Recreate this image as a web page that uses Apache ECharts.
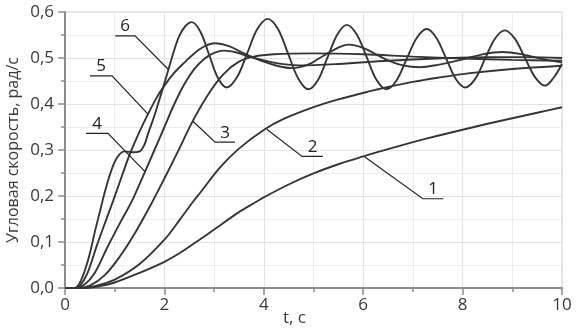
<!DOCTYPE html>
<html>
<head>
<meta charset="utf-8">
<script src="https://cdn.jsdelivr.net/npm/echarts@6/dist/echarts.min.js"></script>
<style>
html,body{margin:0;padding:0;background:#fff;}
#chart{width:578px;height:331px;}
</style>
</head>
<body>
<div id="chart"></div>
<script>
// t, c -> угловая скорость, рад/с
var curve1 = [[0,0],[0.4,0],[0.7,0.004],[1.0,0.012],[1.5,0.033],[2.0,0.057],[2.31,0.076],[2.72,0.106],[3.0,0.127],[3.5,0.165],[3.86,0.188],[4.0,0.197],[4.5,0.225],[5.0,0.249],[5.5,0.269],[6.0,0.286],[6.5,0.302],[7.0,0.317],[7.5,0.331],[8.0,0.344],[8.5,0.357],[9.0,0.369],[9.5,0.381],[10,0.393]];
var curve2 = [[0,0],[0.3,0],[0.6,0.004],[1.0,0.018],[1.5,0.052],[2.0,0.105],[2.3,0.147],[2.58,0.188],[2.72,0.207],[3.12,0.262],[3.5,0.303],[4.02,0.345],[4.39,0.367],[5.0,0.393],[5.5,0.41],[6.14,0.428],[6.5,0.437],[7.0,0.448],[7.5,0.457],[8.15,0.467],[9.0,0.476],[10,0.483]];
var curve3 = [[0,0],[0.25,0],[0.5,0.005],[0.8,0.028],[1.1,0.068],[1.4,0.118],[1.77,0.19],[2.0,0.238],[2.3,0.303],[2.58,0.365],[2.9,0.424],[3.2,0.466],[3.5,0.492],[3.8,0.503],[4.2,0.508],[5.0,0.51],[6.0,0.508],[7.0,0.503],[8.0,0.499],[9.0,0.496],[10,0.494]];
var curve4 = [[0,0],[0.2,0],[0.4,0.008],[0.6,0.033],[0.85,0.088],[1.1,0.14],[1.35,0.19],[1.61,0.253],[1.8,0.3],[2.0,0.35],[2.2,0.4],[2.4,0.443],[2.6,0.476],[2.8,0.498],[3.0,0.511],[3.2,0.516],[3.45,0.512],[3.7,0.503],[4.2,0.49],[4.7,0.484],[5.5,0.487],[6.5,0.494],[7.5,0.499],[8.5,0.502],[9.3,0.502],[10,0.5]];
var curve5 = [[0,0],[0.2,0],[0.3,0.005],[0.45,0.032],[0.64,0.092],[0.8,0.14],[0.97,0.19],[1.15,0.245],[1.3,0.29],[1.5,0.34],[1.67,0.378],[1.85,0.415],[2.0,0.44],[2.2,0.468],[2.4,0.49],[2.6,0.51],[2.8,0.525],[3.02,0.532],[3.3,0.526],[3.6,0.51],[4.0,0.492],[4.3,0.482],[4.56,0.478],[4.9,0.486],[5.2,0.505],[5.45,0.52],[5.7,0.529],[6.0,0.522],[6.24,0.509],[6.5,0.495],[6.8,0.484],[7.14,0.48],[7.5,0.485],[8.0,0.497],[8.4,0.508],[8.8,0.513],[9.2,0.508],[9.6,0.498],[10,0.49]];
var curve6 = [[0,0],[0.2,0],[0.3,0.012],[0.4,0.038],[0.5,0.075],[0.6,0.122],[0.7,0.165],[0.8,0.208],[0.9,0.245],[1.0,0.274],[1.1,0.291],[1.2,0.297],[1.35,0.295],[1.5,0.297],[1.6,0.312],[1.67,0.335],[1.8,0.375],[1.9,0.41],[2.0,0.445],[2.1,0.482],[2.2,0.518],[2.3,0.548],[2.42,0.569],[2.55,0.578],[2.725,0.557],[2.9,0.507],[3.075,0.457],[3.25,0.436],[3.46,0.458],[3.665,0.51],[3.87,0.563],[4.08,0.585],[4.285,0.563],[4.49,0.509],[4.695,0.455],[4.9,0.432],[5.09,0.452],[5.285,0.502],[5.48,0.551],[5.67,0.572],[5.87,0.551],[6.07,0.502],[6.27,0.452],[6.47,0.432],[6.67,0.451],[6.875,0.498],[7.08,0.544],[7.28,0.563],[7.47,0.544],[7.665,0.5],[7.86,0.455],[8.05,0.436],[8.25,0.454],[8.45,0.498],[8.65,0.542],[8.85,0.56],[9.05,0.542],[9.255,0.5],[9.46,0.458],[9.66,0.44],[9.83,0.457],[10,0.487]];

var curveNames = ['1','2','3','4','5','6'];
var curves = [curve1, curve2, curve3, curve4, curve5, curve6];

// выноски: точка на кривой, излом, конец полки (в координатах графика)
var leaderAnchor = [[6.02,0.286],[4.06,0.345],[2.58,0.362],[1.61,0.253],[1.67,0.378],[2.07,0.476]];
var leaderElbow  = [[7.2,0.194],[4.77,0.286],[3.02,0.317],[0.865,0.336],[0.946,0.461],[1.41,0.548]];
var leaderEnd    = [[7.61,0.194],[5.19,0.286],[3.42,0.317],[0.423,0.336],[0.503,0.461],[1.01,0.548]];

var fontName = "'Open Sans', 'DejaVu Sans', sans-serif";
var textColor = '#3a3a3a';
var axisColor = '#8c8c8c';

var myChart = echarts.init(document.getElementById('chart'), null, {renderer: 'canvas'});

var series = [];
for (var i = 0; i < curves.length; i++) {
	series.push({
		name: curveNames[i],
		type: 'line',
		data: curves[i],
		smooth: 0.35,
		showSymbol: false,
		silent: true,
		lineStyle: {color: '#353535', width: 1.9}
	});
}

var option = {
	backgroundColor: '#fff',
	animation: false,
	//сетка строго по пикселям, без подгонки под подписи
	grid: {left: 65, right: 16, top: 12, bottom: 43, outerBoundsMode: 'none', containLabel: false,
		show: true, borderColor: '#d6d6d6', borderWidth: 1},
	xAxis: {
		type: 'value', min: 0, max: 10, interval: 2,
		//пустой блок справа сдвигает подпись левее центра, как в оригинале
		name: '{n|t, c}{gap|}', nameLocation: 'middle', nameGap: 22, nameMoveOverlap: false,
		nameTextStyle: {
			color: textColor, fontSize: 17, fontFamily: fontName,
			rich: {n: {color: textColor, fontSize: 17, fontFamily: fontName}, gap: {width: 38}}
		},
		axisLine: {show: true, onZero: false, lineStyle: {color: axisColor, width: 2}},
		axisTick: {show: true, inside: false, length: 7, lineStyle: {color: axisColor, width: 1.5}},
		minorTick: {show: true, splitNumber: 2, length: 4, lineStyle: {color: axisColor, width: 1.5}},
		axisLabel: {color: textColor, fontSize: 17, fontFamily: fontName, margin: 9},
		splitLine: {show: true, lineStyle: {color: '#e2e2e2', width: 1}},
		minorSplitLine: {show: true, lineStyle: {color: '#ececec', width: 1}}
	},
	yAxis: {
		type: 'value', min: 0, max: 0.6, interval: 0.1,
		name: 'Угловая скорость, рад/с', nameLocation: 'middle', nameGap: 44, nameMoveOverlap: false,
		nameTextStyle: {color: textColor, fontSize: 16, fontFamily: fontName},
		axisLine: {show: true, onZero: false, lineStyle: {color: axisColor, width: 2}},
		axisTick: {show: true, inside: false, length: 7, lineStyle: {color: axisColor, width: 1.5}},
		minorTick: {show: true, splitNumber: 2, length: 4, lineStyle: {color: axisColor, width: 1.5}},
		axisLabel: {
			color: textColor, fontSize: 17, fontFamily: fontName, margin: 11,
			formatter: function (v) { return v.toFixed(1).replace('.', ','); }
		},
		splitLine: {show: true, lineStyle: {color: '#e2e2e2', width: 1}},
		minorSplitLine: {show: true, lineStyle: {color: '#ececec', width: 1}}
	},
	series: series
};
myChart.setOption(option);

// выноски с номерами кривых
var graphics = [];
for (var k = 0; k < curveNames.length; k++) {
	var a = myChart.convertToPixel({gridIndex: 0}, leaderAnchor[k]);
	var b = myChart.convertToPixel({gridIndex: 0}, leaderElbow[k]);
	var c = myChart.convertToPixel({gridIndex: 0}, leaderEnd[k]);
	graphics.push({
		type: 'polyline', silent: true, z: 10,
		shape: {points: [a, b, c]},
		style: {stroke: '#222', lineWidth: 1.2, fill: null}
	});
	graphics.push({
		type: 'text', silent: true, z: 10,
		x: (b[0] + c[0]) / 2, y: b[1] - 1,
		style: {text: curveNames[k], fill: '#222', font: '17px ' + fontName, textAlign: 'center', textVerticalAlign: 'bottom'}
	});
}
myChart.setOption({graphic: graphics});
</script>
</body>
</html>
